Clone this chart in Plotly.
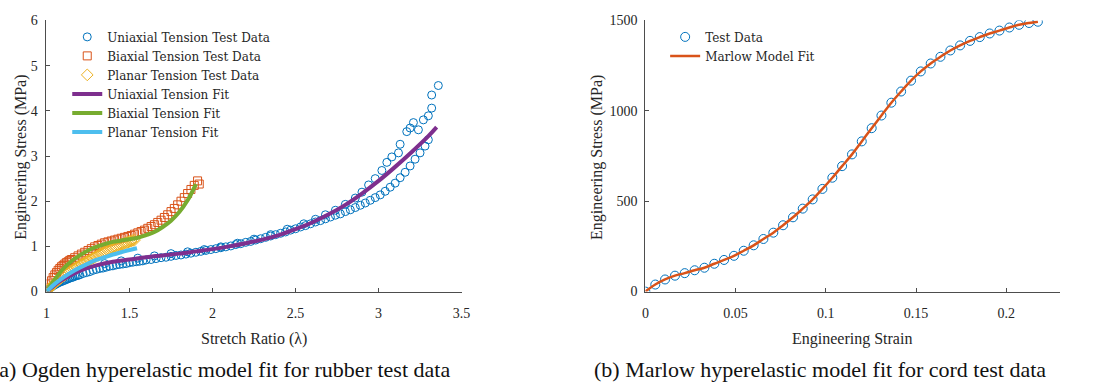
import plotly.graph_objects as go

# ---------------- (a) Ogden fit: rubber test data ----------------
uni_lambda = [
    1.00, 1.01, 1.02, 1.03, 1.04, 1.05, 1.06, 1.07, 1.08, 1.09, 1.10, 1.11, 1.12, 1.13, 1.14, 1.15,
    1.16, 1.17, 1.18, 1.19, 1.20, 1.22, 1.24, 1.26, 1.28, 1.30, 1.32, 1.34, 1.36, 1.38, 1.40, 1.42,
    1.44, 1.46, 1.48, 1.50, 1.52, 1.54, 1.56, 1.58, 1.60, 1.63, 1.66, 1.69, 1.72, 1.75, 1.78, 1.81,
    1.84, 1.87, 1.90, 1.93, 1.96, 1.99, 2.02, 2.05, 2.08, 2.11, 2.14, 2.17, 2.20, 2.23, 2.26, 2.29,
    2.32, 2.35, 2.38, 2.41, 2.44, 2.47, 2.50, 2.53, 2.56, 2.59, 2.62, 2.65, 2.68, 2.71, 2.74, 2.77,
    2.80, 2.83, 2.86, 2.89, 2.92, 2.95, 2.98, 3.01, 3.04, 3.07, 3.10, 3.13, 3.16, 3.19, 3.22, 3.25,
    3.28, 3.30,
    1.35, 1.45, 1.55, 1.65, 1.75, 1.85, 1.95, 2.05, 2.15, 2.25, 2.35, 2.45, 2.55, 2.62, 2.68, 2.74,
    2.80, 2.86, 2.90, 2.94, 2.98, 3.02, 3.05, 3.08, 3.12, 3.13, 3.17, 3.19, 3.21, 3.24, 3.27, 3.30,
    3.32, 3.32, 3.36,
]
uni_stress = [
    0.00, 0.04, 0.07, 0.10, 0.13, 0.15, 0.17, 0.19, 0.21, 0.22, 0.24, 0.25, 0.27, 0.28, 0.30, 0.31,
    0.32, 0.34, 0.35, 0.36, 0.37, 0.40, 0.42, 0.44, 0.47, 0.49, 0.51, 0.52, 0.54, 0.56, 0.57, 0.59,
    0.60, 0.61, 0.62, 0.64, 0.65, 0.66, 0.67, 0.68, 0.70, 0.71, 0.73, 0.75, 0.76, 0.78, 0.80, 0.81,
    0.83, 0.85, 0.87, 0.89, 0.91, 0.93, 0.95, 0.97, 0.99, 1.01, 1.04, 1.06, 1.09, 1.11, 1.14, 1.17,
    1.20, 1.23, 1.26, 1.29, 1.32, 1.36, 1.39, 1.43, 1.46, 1.50, 1.54, 1.57, 1.61, 1.65, 1.69, 1.72,
    1.77, 1.81, 1.86, 1.91, 1.96, 2.02, 2.08, 2.14, 2.22, 2.31, 2.40, 2.52, 2.64, 2.78, 2.93, 3.07,
    3.22, 3.36,
    0.62, 0.68, 0.74, 0.79, 0.84, 0.88, 0.93, 0.99, 1.07, 1.16, 1.26, 1.38, 1.50, 1.60, 1.70, 1.80,
    1.93, 2.07, 2.20, 2.36, 2.50, 2.68, 2.86, 2.98, 3.07, 3.26, 3.54, 3.62, 3.74, 3.58, 3.80, 3.89,
    4.06, 4.35, 4.56,
]

bi_lambda = [
    1.00, 1.01, 1.02, 1.03, 1.04, 1.05, 1.06, 1.07, 1.08, 1.09, 1.10, 1.11, 1.12, 1.13, 1.14, 1.15,
    1.17, 1.19, 1.21, 1.23, 1.25, 1.27, 1.29, 1.31, 1.33, 1.35, 1.37, 1.39, 1.41, 1.43, 1.45, 1.47,
    1.49, 1.51, 1.53, 1.55, 1.57, 1.59, 1.61, 1.63, 1.65, 1.67, 1.69, 1.71, 1.73, 1.75, 1.77, 1.79,
    1.81, 1.83, 1.85, 1.87, 1.89, 1.91, 1.92,
]
bi_stress = [
    0.00, 0.08, 0.17, 0.24, 0.31, 0.37, 0.42, 0.47, 0.51, 0.55, 0.58, 0.61, 0.64, 0.66, 0.69, 0.71,
    0.75, 0.79, 0.83, 0.87, 0.91, 0.95, 0.99, 1.02, 1.05, 1.08, 1.10, 1.12, 1.14, 1.16, 1.18, 1.20,
    1.22, 1.24, 1.27, 1.30, 1.33, 1.36, 1.40, 1.44, 1.48, 1.53, 1.58, 1.64, 1.70, 1.77, 1.84, 1.92,
    2.00, 2.08, 2.17, 2.26, 2.35, 2.45, 2.38,
]

pl_lambda = [
    1.00, 1.01, 1.02, 1.03, 1.04, 1.05, 1.06, 1.07, 1.08, 1.09, 1.10, 1.11, 1.12, 1.13, 1.14, 1.15,
    1.16, 1.17, 1.18, 1.19, 1.20, 1.21, 1.22, 1.23, 1.24, 1.25, 1.26, 1.27, 1.28, 1.29, 1.30, 1.31,
    1.32, 1.33, 1.34, 1.35, 1.36, 1.37, 1.38, 1.39, 1.40, 1.41, 1.42, 1.43, 1.44, 1.45, 1.46, 1.47,
    1.48, 1.49, 1.50, 1.51, 1.52, 1.53,
]
pl_stress = [
    0.00, 0.04, 0.08, 0.12, 0.15, 0.19, 0.22, 0.25, 0.28, 0.31, 0.34, 0.36, 0.39, 0.41, 0.44, 0.46,
    0.49, 0.51, 0.53, 0.55, 0.58, 0.60, 0.62, 0.64, 0.66, 0.68, 0.70, 0.72, 0.74, 0.76, 0.78, 0.80,
    0.82, 0.84, 0.86, 0.87, 0.89, 0.91, 0.93, 0.94, 0.96, 0.98, 0.99, 1.01, 1.02, 1.04, 1.05, 1.07,
    1.08, 1.09, 1.11, 1.12, 1.13, 1.14,
]

uni_fit_lambda = [1.00, 1.05, 1.10, 1.15, 1.20, 1.30, 1.40, 1.50, 1.60, 1.70, 1.80, 1.90, 2.00, 2.10,
                  2.20, 2.30, 2.40, 2.50, 2.60, 2.70, 2.80, 2.90, 3.00, 3.10, 3.20, 3.30, 3.35]
uni_fit_stress = [0.00, 0.15, 0.27, 0.37, 0.46, 0.58, 0.66, 0.71, 0.76, 0.80, 0.84, 0.89, 0.94, 1.00,
                  1.07, 1.15, 1.25, 1.38, 1.53, 1.71, 1.92, 2.17, 2.45, 2.76, 3.09, 3.44, 3.64]

bi_fit_lambda = [1.00, 1.05, 1.10, 1.15, 1.20, 1.25, 1.30, 1.35, 1.40, 1.45, 1.50, 1.55, 1.60, 1.65,
                 1.70, 1.75, 1.80, 1.85, 1.90]
bi_fit_stress = [0.00, 0.27, 0.50, 0.67, 0.80, 0.91, 0.99, 1.05, 1.10, 1.13, 1.16, 1.19, 1.25, 1.32,
                 1.43, 1.57, 1.76, 2.02, 2.38]

pl_fit_lambda = [1.00, 1.05, 1.10, 1.15, 1.20, 1.25, 1.30, 1.35, 1.40, 1.45, 1.50, 1.545]
pl_fit_stress = [0.00, 0.17, 0.31, 0.43, 0.53, 0.62, 0.70, 0.76, 0.82, 0.87, 0.92, 0.96]

# ---------------- (b) Marlow fit: cord test data ----------------
cord_strain = [
    0.0000, 0.0055, 0.0109, 0.0164, 0.0218, 0.0273, 0.0327, 0.0382, 0.0436, 0.0491, 0.0545,
    0.0600, 0.0654, 0.0709, 0.0763, 0.0818, 0.0872, 0.0927, 0.0981, 0.1036, 0.1090, 0.1145,
    0.1199, 0.1254, 0.1308, 0.1363, 0.1417, 0.1472, 0.1526, 0.1581, 0.1635, 0.1690, 0.1744,
    0.1799, 0.1853, 0.1908, 0.1962, 0.2017, 0.2071, 0.2126, 0.2175,
]
cord_stress = [
    0, 39, 67, 88, 102, 118, 132, 154, 175, 198, 226, 256, 291, 326, 367, 411, 459, 510, 568,
    630, 694, 759, 831, 904, 974, 1045, 1107, 1167, 1218, 1262, 1299, 1334, 1362, 1387, 1408,
    1428, 1444, 1461, 1476, 1486, 1493,
]

x_ticks_a = [1, 1.5, 2, 2.5, 3, 3.5]
y_ticks_a = [0, 1, 2, 3, 4, 5, 6]
x_ticks_b = [0, 0.05, 0.1, 0.15, 0.2]
y_ticks_b = [0, 500, 1000, 1500]

BLUE = "#0072BD"
ORANGE = "#D95319"
YELLOW = "#EDB120"
PURPLE = "#7E2F8E"
GREEN = "#77AC30"
CYAN = "#4DBEEE"

FONT = "Liberation Serif"
LEGFONT = "DejaVu Serif"
TXT = "#262626"
W, H = 1107, 389


def px(x):
    return x / W


def py(y):
    return 1 - y / H


fig = go.Figure()

fig.add_trace(go.Scatter(x=uni_lambda, y=uni_stress, mode="markers", name="Uniaxial Tension Test Data",
                         marker=dict(symbol="circle-open", size=8, color=BLUE, line=dict(width=1)),
                         xaxis="x", yaxis="y", legend="legend"))
fig.add_trace(go.Scatter(x=bi_lambda, y=bi_stress, mode="markers", name="Biaxial Tension Test Data",
                         marker=dict(symbol="square-open", size=8, color=ORANGE, line=dict(width=1)),
                         xaxis="x", yaxis="y", legend="legend"))
fig.add_trace(go.Scatter(x=pl_lambda, y=pl_stress, mode="markers", name="Planar Tension Test Data",
                         marker=dict(symbol="diamond-open", size=9, color=YELLOW, line=dict(width=1)),
                         xaxis="x", yaxis="y", legend="legend"))
fig.add_trace(go.Scatter(x=uni_fit_lambda, y=uni_fit_stress, mode="lines", name="Uniaxial Tension Fit",
                         line=dict(color=PURPLE, width=4, shape="spline"),
                         xaxis="x", yaxis="y", legend="legend"))
fig.add_trace(go.Scatter(x=bi_fit_lambda, y=bi_fit_stress, mode="lines", name="Biaxial Tension Fit",
                         line=dict(color=GREEN, width=4, shape="spline"),
                         xaxis="x", yaxis="y", legend="legend"))
fig.add_trace(go.Scatter(x=pl_fit_lambda, y=pl_fit_stress, mode="lines", name="Planar Tension Fit",
                         line=dict(color=CYAN, width=4, shape="spline"),
                         xaxis="x", yaxis="y", legend="legend"))

fig.add_trace(go.Scatter(x=cord_strain, y=cord_stress, mode="markers", name="Test Data",
                         marker=dict(symbol="circle-open", size=9, color=BLUE, line=dict(width=1)),
                         xaxis="x2", yaxis="y2", legend="legend2"))
fig.add_trace(go.Scatter(x=cord_strain, y=cord_stress, mode="lines", name="Marlow Model Fit",
                         line=dict(color=ORANGE, width=2.5, shape="spline"),
                         xaxis="x2", yaxis="y2", legend="legend2"))

axis_common = dict(showline=True, linecolor="#4d4d4d", linewidth=1, mirror=False, showgrid=False,
                   zeroline=False, ticks="inside", ticklen=4, tickwidth=1, tickcolor="#4d4d4d",
                   tickfont=dict(family=FONT, size=14, color=TXT))

ydom = [py(296), py(14)]
fig.update_layout(
    width=W, height=H,
    margin=dict(l=0, r=0, t=0, b=0),
    paper_bgcolor="white", plot_bgcolor="white",
    font=dict(family=FONT, size=14, color=TXT),
    xaxis=dict(domain=[px(43), px(463)], range=[1, 3.5], tickvals=x_ticks_a,
               ticktext=[f"{v:g}" for v in x_ticks_a], anchor="y", ticklabelstandoff=9, **axis_common),
    yaxis=dict(domain=ydom, range=[0, 6], tickvals=y_ticks_a,
               ticktext=[f"{v:g}" for v in y_ticks_a], anchor="x", ticklabelstandoff=5, **axis_common),
    xaxis2=dict(domain=[px(649), px(1069)], range=[0, 0.23], tickvals=x_ticks_b,
                ticktext=[f"{v:g}" for v in x_ticks_b], anchor="y2", ticklabelstandoff=9, **axis_common),
    yaxis2=dict(domain=ydom, range=[0, 1500], tickvals=y_ticks_b,
                ticktext=[f"{v:g}" for v in y_ticks_b], anchor="x2", ticklabelstandoff=4, **axis_common),
    legend=dict(x=px(64), y=py(16), xanchor="left", yanchor="top", bgcolor="rgba(0,0,0,0)",
                font=dict(family=LEGFONT, size=12, color=TXT), borderwidth=0),
    legend2=dict(x=px(669), y=py(16), xanchor="left", yanchor="top", bgcolor="rgba(0,0,0,0)",
                 font=dict(family=LEGFONT, size=12, color=TXT), borderwidth=0),
    showlegend=True,
)

annotations = [
    dict(text="Engineering Stress (MPa)", x=px(17), y=py(156), textangle=-90),
    dict(text="Engineering Stress (MPa)", x=px(600), y=py(156), textangle=-90),
    dict(text="Stretch Ratio (λ)", x=px(253), y=py(345)),
    dict(text="Engineering Strain", x=px(858), y=py(345)),
]
for a in annotations:
    a.update(xref="paper", yref="paper", xanchor="center", yanchor="middle", showarrow=False,
             font=dict(family=FONT, size=16, color=TXT))
    fig.add_annotation(**a)

fig.add_annotation(text="(a) Ogden hyperelastic model fit for rubber test data", x=px(-14), y=py(377),
                   xref="paper", yref="paper", xanchor="left", yanchor="middle", showarrow=False,
                   font=dict(family=FONT, size=22, color="#111"))
fig.add_annotation(text="(b) Marlow hyperelastic model fit for cord test data", x=px(595), y=py(377),
                   xref="paper", yref="paper", xanchor="left", yanchor="middle", showarrow=False,
                   font=dict(family=FONT, size=22, color="#111"))

fig.write_html("out.html")
